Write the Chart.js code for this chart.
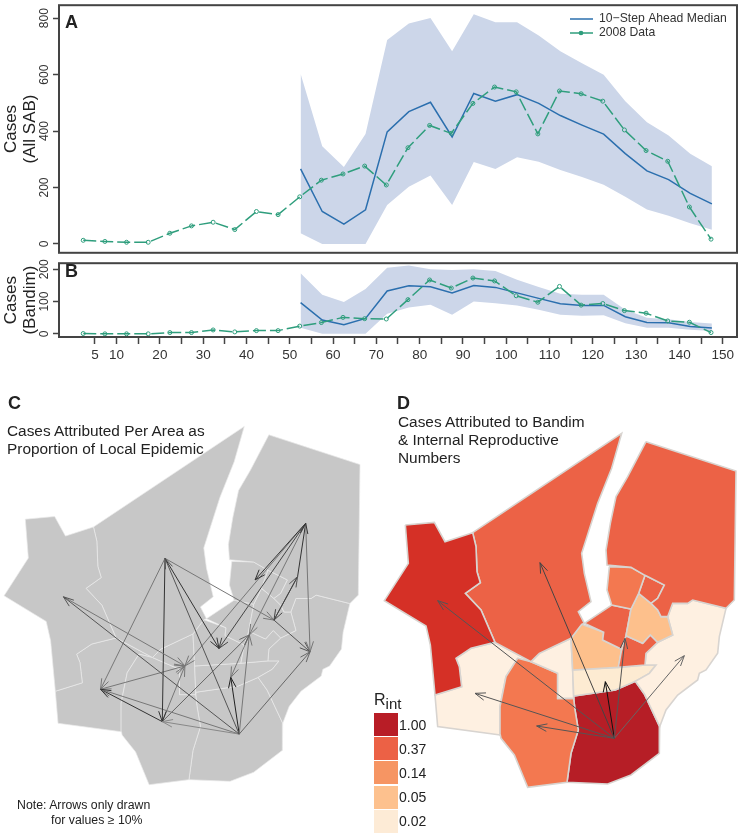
<!DOCTYPE html>
<html>
<head>
<meta charset="utf-8">
<script src="https://cdn.jsdelivr.net/npm/chart.js@4"></script>
<style>
body { margin: 0; background: #fff; font-family: "Liberation Sans", sans-serif; color: #222; }
#page { position: relative; width: 742px; height: 837px; overflow: hidden; }
canvas { position: absolute; }
.txt { position: absolute; white-space: nowrap; line-height: 18px; font-size: 15.4px; }
.tag { position: absolute; font-weight: bold; font-size: 18px; line-height: 20px; }
.note { position: absolute; white-space: nowrap; font-size: 12.3px; line-height: 15px; }
.sw { position: absolute; left: 374px; width: 24px; height: 23px; }
.lab { position: absolute; left: 399px; font-size: 14px; line-height: 16px; }
sub { font-size: 15px; vertical-align: -4px; line-height: 0; }
</style>
</head>
<body>
<div id="page">
<canvas id="chartA" width="742" height="258" style="left:0;top:0"></canvas>
<canvas id="chartB" width="742" height="112" style="left:0;top:258px"></canvas>
<canvas id="chartC" width="371" height="447" style="left:0;top:390px"></canvas>
<canvas id="chartD" width="371" height="447" style="left:371px;top:390px"></canvas>

<div class="tag" style="left:8px;top:393px">C</div>
<div class="txt" style="left:7px;top:422px">Cases Attributed Per Area as<br>Proportion of Local Epidemic</div>
<div class="note" style="left:17px;top:798px">Note: Arrows only drawn</div>
<div class="note" style="left:51px;top:813px">for values ≥ 10%</div>

<div class="tag" style="left:397px;top:393px">D</div>
<div class="txt" style="left:398px;top:413px">Cases Attributed to Bandim<br>&amp; Internal Reproductive<br>Numbers</div>

<div class="lab" style="left:374px;top:691px;font-size:16px;line-height:18px">R<sub>int</sub></div>
<div id="rintLegend"></div>
<div class="tag" style="left:65px;top:12px">A</div>
<div class="tag" style="left:65px;top:261px">B</div>
</div>

<script>
// weeks
const dataWeeks = [2.3,7.3,12.3,17.3,22.3,27.3,32.3,37.3,42.3,47.3,52.3,57.3,62.3,67.3,72.3,77.3,82.3,87.3,92.3,97.3,102.3,107.3,112.3,117.3,122.3,127.3,132.3,137.3,142.3,147.3]
const forecastWeeks = [52.5,57.5,62.5,67.5,72.5,77.5,82.5,87.5,92.5,97.5,102.5,107.5,112.5,117.5,122.5,127.5,132.5,137.5,142.5,147.5]

// panel A, all SAB
const dataA = [13,9,6,6,38,64,77,51,115,104,167,226,248,276,209,341,420,392,498,556,539,390,542,532,506,404,331,293,131,17]
const medianA = [266,115,70,121,397,469,502,379,533,506,529,498,455,421,389,320,259,228,179,142]
const upperA = [603,346,273,390,723,781,801,683,814,786,786,739,683,640,600,506,431,384,320,275]
const lowerA = [38,0,0,0,138,203,243,138,290,266,307,291,262,237,210,167,122,100,73,50]

// panel B, Bandim
const dataB = [1,0,0,0,4,4,12,6,10,10,24,35,51,47,46,106,167,142,173,164,118,98,147,89,94,72,64,40,36,4]
const medianB = [97,43,28,48,133,149,146,127,150,144,127,110,93,88,88,53,35,34,23,18]
const upperB = [188,121,99,139,205,212,200,198,200,195,168,145,124,121,121,75,50,45,37,32]
const lowerB = [19,0,0,0,62,82,90,59,100,95,88,75,59,56,58,33,19,19,13,9]

// axis ticks
const xTicks = [5,10,15,20,25,30,35,40,45,50,55,60,65,70,75,80,85,90,95,100,105,110,115,120,125,130,135,140,145,150]
const xTickLabels = ['5','10','','20','','30','','40','','50','','60','','70','','80','','90','','100','','110','','120','','130','','140','','150']
const yTicksA = [0,200,400,600,800]
const yTicksB = [0,50,100,150,200]
const yTickLabelsB = ['0','','100','','200']
const seriesNames = ['10\u2212Step Ahead Median', '2008 Data']

// map areas, in map units
const areaWest = [[103,405],[190,397],[222,455],[305,428],[315,470],[318,545],[328,578],[283,610],[330,660],[372,757],[300,775],[255,805],[265,830],[272,890],[192,915],[178,765],[165,708],[40,632],[112,520],[103,405]]
const areaNorthWest = [[305,428],[752,130],[722,235],[680,340],[632,490],[640,550],[660,635],[622,665],[640,700],[632,703],[600,745],[505,790],[480,815],[372,757],[330,660],[283,610],[328,578],[318,545],[315,470],[305,428]]
const areaNorthEast = [[825,155],[1095,243],[1090,630],[1065,655],[965,630],[950,640],[905,640],[890,680],[870,680],[860,660],[840,640],[860,625],[880,585],[822,556],[780,532],[708,525],[705,480],[718,400],[735,320],[770,260],[825,155]]
const areaEnclave = [[895,517],[948,515],[965,535],[970,565],[955,605],[905,605],[900,578],[895,517]]
const areaInnerNorth = [[715,530],[780,532],[822,556],[803,610],[780,657],[722,645],[708,600],[715,530]]
const areaInnerSmall = [[822,556],[880,585],[860,625],[840,640],[803,610],[822,556]]
const areaInnerEast = [[803,610],[840,640],[860,660],[870,680],[890,680],[905,735],[860,757],[838,735],[815,760],[765,737],[780,657],[803,610]]
const areaCentreNorth = [[640,700],[722,645],[780,657],[765,737],[752,778],[695,750],[698,727],[640,700]]
const areaCentreEast = [[765,737],[815,760],[838,735],[860,757],[825,790],[822,825],[742,832],[752,778],[765,737]]
const areaCentre = [[632,703],[698,727],[695,750],[752,778],[742,832],[605,840],[600,745],[632,703]]
const areaEast = [[965,630],[1065,655],[1045,740],[1040,790],[1005,840],[985,850],[980,870],[920,915],[885,960],[866,1010],[820,912],[793,874],[835,850],[855,825],[822,825],[825,790],[860,757],[905,735],[890,680],[905,640],[950,640],[965,630]]
const areaStrip = [[605,840],[742,832],[822,825],[855,825],[835,850],[793,874],[733,900],[608,918],[605,840]]
const areaMidNorth = [[480,815],[505,790],[600,745],[605,840],[608,918],[608,925],[560,925],[560,850],[480,815]]
const areaSouthMid = [[440,805],[480,815],[560,850],[560,925],[608,925],[612,960],[622,1020],[600,1090],[588,1177],[470,1192],[430,1095],[390,1045],[388,1035],[387,950],[405,860],[440,805]]
const areaSouthWest = [[372,757],[300,775],[255,805],[265,830],[272,890],[192,915],[200,1010],[388,1035],[387,950],[405,860],[440,805],[480,815],[372,757]]
const areaSouth = [[608,925],[608,918],[733,900],[793,874],[820,912],[866,1010],[865,1090],[780,1155],[710,1182],[588,1177],[600,1090],[622,1020],[612,960],[608,925]]

const mapAreas = [areaWest,areaNorthWest,areaNorthEast,areaEnclave,areaInnerNorth,areaInnerSmall,areaInnerEast,areaCentreNorth,areaCentreEast,areaCentre,areaEast,areaStrip,areaMidNorth,areaSouthMid,areaSouthWest,areaSouth]
const areaColors = ['#d53026','#ec6246','#ec6246','#ec6246','#f37850','#ec6246','#fdc08c','#ec6246','#ec6246','#fdc08c','#fef0e1','#fdebd2','#fef0e1','#f37850','#fef0e1','#b61e26']

// arrows of panel C: from, to, grey
const arrowsC = [
    [[737,1042],[216,635],'#555'],
    [[216,635],[576,840],'#777'],
    [[517,521],[326,909],'#777'],
    [[517,521],[509,1005],'#333'],
    [[517,521],[677,788],'#333'],
    [[737,1042],[517,521],'#555'],
    [[517,521],[840,704],'#777'],
    [[840,704],[947,798],'#555'],
    [[934,417],[677,788],'#444'],
    [[934,417],[784,585],'#333'],
    [[934,417],[576,840],'#777'],
    [[934,417],[767,748],'#777'],
    [[934,417],[947,798],'#777'],
    [[910,575],[934,417],'#333'],
    [[910,575],[840,704],'#444'],
    [[840,704],[910,575],'#555'],
    [[737,1042],[767,748],'#777'],
    [[737,1042],[947,798],'#666'],
    [[509,1005],[576,840],'#777'],
    [[737,1042],[509,1005],'#888'],
    [[737,1042],[326,909],'#777'],
    [[509,1005],[326,909],'#333'],
    [[326,909],[576,840],'#777'],
    [[509,1005],[767,748],'#666'],
    [[767,748],[712,874],'#777'],
    [[737,1042],[712,874],'#222']
]

// arrows of panel D
const arrowsD = [
    [[730,1045],[507,518],'#444'],
    [[730,1045],[200,632],'#555'],
    [[730,1045],[940,797],'#666'],
    [[730,1045],[312,910],'#555'],
    [[730,1045],[497,1008],'#555'],
    [[730,1045],[762,745],'#555'],
    [[730,1045],[703,875],'#111']
]

const rintValues = ['1.00','0.37','0.14','0.05','0.02']
const rintColors = ['#b81d26','#ec6145','#f69563','#fdc18e','#fdebd6']

const RIBBON = '#ccd6e9'
const BLUE = '#2b6fae'
const GREEN = '#2f9e7d'
const AXIS = '#444'

function pts(xs, ys) {
    return xs.map((x, i) => ({x: x, y: ys[i]}))
}

// box round the plot
const framePlugin = {
    id: 'frame',
    afterDraw(chart) {
        const a = chart.chartArea
        const ctx = chart.ctx
        ctx.save()
        ctx.strokeStyle = AXIS
        ctx.lineWidth = 2
        ctx.strokeRect(a.left, a.top, a.right - a.left, a.bottom - a.top)
        ctx.restore()
    }
}

// legend inside panel A
const insetLegend = {
    id: 'insetLegend',
    afterDraw(chart) {
        if (chart.canvas.id != 'chartA') return
        const ctx = chart.ctx
        ctx.save()
        ctx.font = '12.2px "Liberation Sans"'
        ctx.fillStyle = '#333'
        ctx.textBaseline = 'middle'
        ctx.fillText(seriesNames[0], 599, 19)
        ctx.fillText(seriesNames[1], 599, 33)
        ctx.lineWidth = 1.5
        ctx.strokeStyle = BLUE
        ctx.beginPath(); ctx.moveTo(570, 19); ctx.lineTo(593, 19); ctx.stroke()
        ctx.strokeStyle = GREEN
        ctx.beginPath(); ctx.moveTo(570, 33); ctx.lineTo(593, 33); ctx.stroke()
        ctx.beginPath(); ctx.arc(581, 33, 1.6, 0, Math.PI * 2)
        ctx.fillStyle = GREEN
        ctx.fill(); ctx.stroke()
        ctx.restore()
    }
}

// open arrow heads at the end of each arrow dataset
const arrowHeads = {
    id: 'arrowHeads',
    afterDatasetsDraw(chart) {
        const ctx = chart.ctx
        chart.data.datasets.forEach((ds, i) => {
            if (!ds.isArrow) return
            const p = chart.getDatasetMeta(i).data
            const angle = Math.atan2(p[1].y - p[0].y, p[1].x - p[0].x)
            ctx.save()
            ctx.strokeStyle = ds.borderColor
            ctx.lineWidth = ds.borderWidth
            ctx.beginPath()
            ctx.moveTo(p[1].x - 11 * Math.cos(angle - 0.35), p[1].y - 11 * Math.sin(angle - 0.35))
            ctx.lineTo(p[1].x, p[1].y)
            ctx.lineTo(p[1].x - 11 * Math.cos(angle + 0.35), p[1].y - 11 * Math.sin(angle + 0.35))
            ctx.stroke()
            ctx.restore()
        })
    }
}

function lineChart(id, cfg) {
    const showX = cfg.xAxis
    new Chart(document.getElementById(id), {
        type: 'scatter',
        data: {
            datasets: [
                {data: pts(dataWeeks, cfg.data), showLine: true, borderColor: GREEN, borderWidth: 1.5, borderDash: [13, 4], pointRadius: 2, pointBorderWidth: 1, pointBorderColor: GREEN, pointBackgroundColor: 'transparent'},
                {data: pts(forecastWeeks, cfg.median), showLine: true, borderColor: BLUE, borderWidth: 1.5, pointRadius: 0},
                {data: pts(forecastWeeks, cfg.upper), showLine: true, borderWidth: 0, pointRadius: 0, backgroundColor: RIBBON, fill: '+1'},
                {data: pts(forecastWeeks, cfg.lower), showLine: true, borderWidth: 0, pointRadius: 0}
            ]
        },
        options: {
            responsive: false,
            animation: false,
            events: [],
            layout: {padding: cfg.padding},
            plugins: {legend: {display: false}, tooltip: {enabled: false}},
            scales: {
                x: {
                    min: -3.3, max: 153.3,
                    display: showX,
                    afterBuildTicks(s) { s.ticks = xTicks.map(v => ({value: v})) },
                    afterFit(s) { if (showX) s.height = 33 },
                    border: {display: false},
                    grid: {drawOnChartArea: false, tickLength: 7, tickWidth: 1.5, tickColor: AXIS},
                    ticks: {
                        autoSkip: false, maxRotation: 0, padding: 3, color: '#333',
                        font: {family: 'Liberation Sans', size: 13.5},
                        callback: (v) => xTickLabels[xTicks.indexOf(v)]
                    }
                },
                y: {
                    min: cfg.min, max: cfg.max,
                    afterBuildTicks(s) { s.ticks = cfg.yTicks.map(v => ({value: v})) },
                    afterFit(s) { s.width = 59 },
                    border: {display: false},
                    grid: {drawOnChartArea: false, tickLength: 6, tickWidth: 1.5, tickColor: AXIS},
                    title: {display: true, text: cfg.title, color: '#222', padding: 2, font: {family: 'Liberation Sans', size: 17, lineHeight: 1.12}},
                    ticks: {
                        minRotation: 90, maxRotation: 90, crossAlign: 'center', padding: -2, color: '#333',
                        font: {family: 'Liberation Sans', size: 12},
                        callback: cfg.yLabel
                    }
                }
            }
        },
        plugins: [framePlugin, insetLegend]
    })
}

lineChart('chartA', {
    data: dataA, median: medianA, upper: upperA, lower: lowerA,
    xAxis: false, min: -31.3, max: 846, yTicks: yTicksA,
    yLabel: (v) => String(v),
    title: ['Cases', '(All SAB)'],
    padding: {top: 4, right: 4, bottom: 2, left: 0}
})

lineChart('chartB', {
    data: dataB, median: medianB, upper: upperB, lower: lowerB,
    xAxis: true, min: -9.8, max: 219, yTicks: yTicksB,
    yLabel: (v) => yTickLabelsB[yTicksB.indexOf(v)],
    title: ['Cases', '(Bandim)'],
    padding: {top: 2, right: 4, bottom: 0, left: 0}
})

function mapChart(id, cfg) {
    const arrows = cfg.arrows.map(a => ({
        data: [{x: a[0][0], y: a[0][1]}, {x: a[1][0], y: a[1][1]}],
        isArrow: true, showLine: true, borderColor: a[2], borderWidth: 1, pointRadius: 0
    }))
    const areas = mapAreas.map((area, i) => ({
        data: area.map(p => ({x: p[0], y: p[1]})),
        showLine: true, fill: 'shape', pointRadius: 0,
        backgroundColor: cfg.fills ? cfg.fills[i] : cfg.fill,
        borderColor: cfg.edges ? cfg.edges[i] : cfg.edge, borderWidth: cfg.edgeWidth
    }))
    new Chart(document.getElementById(id), {
        type: 'scatter',
        data: {datasets: arrows.concat(areas)},
        options: {
            responsive: false,
            animation: false,
            events: [],
            layout: {padding: 0},
            plugins: {legend: {display: false}, tooltip: {enabled: false}},
            scales: {
                x: {display: false, min: cfg.x[0], max: cfg.x[1]},
                y: {display: false, min: cfg.y[0], max: cfg.y[1], reverse: true}
            }
        },
        plugins: [arrowHeads]
    })
}

mapChart('chartC', {
    arrows: arrowsC, fill: '#c7c7c7', edge: '#e9e9e9', edgeWidth: 0.7,
    x: [28, 1127.6], y: [22, 1347]
})

mapChart('chartD', {
    arrows: arrowsD, fills: areaColors, edge: '#d8d4d0', edgeWidth: 1.6,
    x: [0, 1113], y: [0, 1341]
})

// Rint legend
const rintBox = document.getElementById('rintLegend')
rintValues.forEach((v, i) => {
    const top = 713 + i * 24.2
    rintBox.insertAdjacentHTML('beforeend',
        '<div class="sw" style="top:' + top + 'px;background:' + rintColors[i] + '"></div>' +
        '<div class="lab" style="top:' + (top + 3.5) + 'px">' + v + '</div>')
})
</script>
</body>
</html>
